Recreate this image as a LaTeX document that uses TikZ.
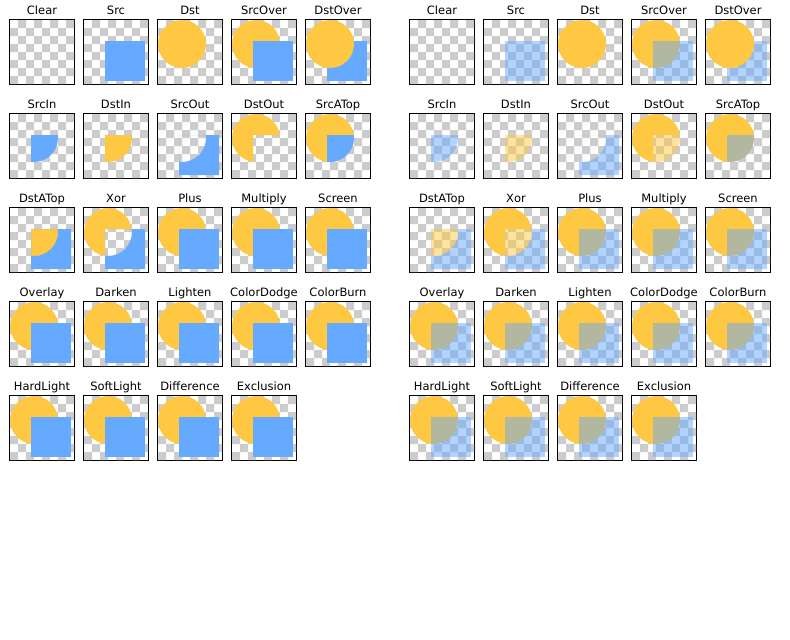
\documentclass[tikz,border=0pt]{standalone}
\usepackage{fontspec}
\setmainfont{DejaVu Sans}
\usetikzlibrary{positioning}

\definecolor{dstyellow}{RGB}{255,200,66}
\definecolor{srcblue}{RGB}{102,170,255}
\definecolor{checkgray}{RGB}{204,204,204}

% the two shapes, in tile pixels
\newcommand{\dstpath}{(24,24) circle[radius=24]}
\newcommand{\srcpath}{(21,21) rectangle (61,61)}

% regions of the two shapes
\newcommand{\filldst}[1]{\fill[#1] \dstpath;}
\newcommand{\fillsrc}[1]{\fill[#1] \srcpath;}
\newcommand{\fillboth}[1]{\begin{scope}\clip \srcpath; \fill[#1] \dstpath;\end{scope}}
\newcommand{\filldstonly}[1]{\begin{scope}\clip \dstpath; \fill[#1, even odd rule] \dstpath \srcpath;\end{scope}}
\newcommand{\fillsrconly}[1]{\begin{scope}\clip \srcpath; \fill[#1, even odd rule] \srcpath \dstpath;\end{scope}}

% one macro per rule
\newcommand{\modeClear}{}
\newcommand{\modeSrc}{\fillsrc{src}}
\newcommand{\modeDst}{\filldst{dst}}
\newcommand{\modeSrcOver}{\filldst{dst}\fillsrc{src}}
\newcommand{\modeDstOver}{\fillsrc{src}\filldst{dst}}
\newcommand{\modeSrcIn}{\fillboth{src}}
\newcommand{\modeDstIn}{\fillboth{dst, fill opacity=\srcalpha}}
\newcommand{\modeSrcOut}{\fillsrconly{src}}
\newcommand{\modeDstOut}{\filldstonly{dst}\fillboth{dst, fill opacity=\restalpha}}
\newcommand{\modeSrcATop}{\filldst{dst}\fillboth{src}}
\newcommand{\modeDstATop}{\fillboth{dst, fill opacity=\srcalpha}\fillsrconly{src}}
\newcommand{\modeXor}{\filldstonly{dst}\fillboth{dst, fill opacity=\restalpha}\fillsrconly{src}}
\let\modePlus\modeSrcOver
\let\modeMultiply\modeSrcOver
\let\modeScreen\modeSrcOver
\let\modeOverlay\modeSrcOver
\let\modeDarken\modeSrcOver
\let\modeLighten\modeSrcOver
\let\modeColorDodge\modeSrcOver
\let\modeColorBurn\modeSrcOver
\let\modeHardLight\modeSrcOver
\let\modeSoftLight\modeSrcOver
\let\modeDifference\modeSrcOver
\let\modeExclusion\modeSrcOver

\begin{document}
\begin{tikzpicture}[
        x=1pt, y=-1pt,
        tile/.style={draw, line width=1pt, minimum size=65pt, inner sep=0pt,
            outer sep=0pt, anchor=north west},
        caption/.style={font=\fontsize{11.5}{13}\selectfont, anchor=base, inner sep=0pt},
        src/.style={srcblue, fill opacity=\srcalpha},
        dst/.style={dstyellow}]

    \fill[white] (0,0) rectangle (790,640);
    \useasboundingbox (0,0) rectangle (790,640);

    \foreach \px/\srcalpha/\restalpha/\side in {9/1/0/l, 409/0.5/0.5/r} {
        \foreach \opname [count=\k from 0] in {Clear,Src,Dst,SrcOver,DstOver,
                SrcIn,DstIn,SrcOut,DstOut,SrcATop,
                DstATop,Xor,Plus,Multiply,Screen,
                Overlay,Darken,Lighten,ColorDodge,ColorBurn,
                HardLight,SoftLight,Difference,Exclusion} {
            \pgfmathtruncatemacro\col{mod(\k,5)}
            \pgfmathtruncatemacro\row{\k/5}
            \node[tile] (\side-\opname) at ({\px+0.5+74*\col},{19.5+94*\row}) {};
            \node[caption] at ([yshift=5pt]\side-\opname.north) {\opname};
            \begin{scope}[shift={({\px+1+74*\col},{20+94*\row})}]
                \fill[checkgray] \foreach \j in {0,...,7} {
                    \foreach \i in {0,2,4,6} {({8*(\i+mod(\j+1,2))},{8*\j}) rectangle ++(8,8)}};
                \csname mode\opname\endcsname
            \end{scope}
        }
    }

\end{tikzpicture}
\end{document}
